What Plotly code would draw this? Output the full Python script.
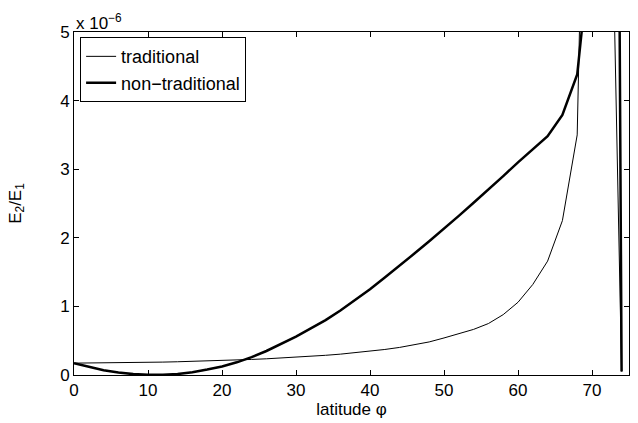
import plotly.graph_objects as go

# latitude grid (degrees)
latitude = [0, 2, 4, 6, 8, 10, 12, 14, 16, 18, 20, 22, 24, 26, 28, 30, 32, 34, 36,
            38, 40, 42, 44, 46, 48, 50, 52, 54, 56, 58, 60, 62, 64, 66, 68, 70, 72, 74]

# E2/E1 in units of 1e-6
traditional = [0.173, 0.174, 0.176, 0.178, 0.181, 0.184, 0.188, 0.193, 0.198, 0.204,
               0.211, 0.218, 0.227, 0.236, 0.247, 0.259, 0.272, 0.287, 0.304, 0.323,
               0.347, 0.372, 0.402, 0.438, 0.482, 0.54, 0.60, 0.665, 0.75, 0.88,
               1.06, 1.32, 1.66, 2.25, 3.50, 13.5, 10.7, 0.05]

non_traditional = [0.173, 0.116, 0.070, 0.036, 0.013, 0.002, 0.002, 0.014, 0.040, 0.080,
                   0.125, 0.185, 0.26, 0.35, 0.45, 0.56, 0.68, 0.80, 0.94, 1.09,
                   1.25, 1.42, 1.59, 1.77, 1.95, 2.13, 2.32, 2.51, 2.70, 2.90,
                   3.10, 3.29, 3.48, 3.79, 4.38, 6.45, 38.0, 0.05]

scale = 1e-6
x_ticks = [0, 10, 20, 30, 40, 50, 60, 70]
y_ticks = [0, 1, 2, 3, 4, 5]

FONT = "Liberation Sans, Arial, Helvetica, sans-serif"

fig = go.Figure()
fig.add_trace(go.Scatter(x=latitude, y=[v * scale for v in traditional],
                         mode="lines", name="traditional",
                         line=dict(color="black", width=1)))
fig.add_trace(go.Scatter(x=latitude, y=[v * scale for v in non_traditional],
                         mode="lines", name="non\u2212traditional",
                         line=dict(color="black", width=2.5)))

axis_common = dict(showline=True, linecolor="black", linewidth=1, mirror="ticks",
                   ticks="inside", ticklen=5, tickcolor="black", tickwidth=1,
                   showgrid=False, zeroline=False,
                   tickfont=dict(family=FONT, size=17, color="black"))

fig.update_xaxes(range=[0, 75], tickvals=x_ticks, ticktext=[str(t) for t in x_ticks],
                 title=dict(text="latitude \u03c6", font=dict(family=FONT, size=17, color="black"),
                            standoff=2),
                 **axis_common)
fig.update_yaxes(range=[0, 5 * scale], tickvals=[t * scale for t in y_ticks],
                 ticktext=[str(t) for t in y_ticks],
                 title=dict(text="E<sub>2</sub>/E<sub>1</sub>",
                            font=dict(family=FONT, size=17, color="black"), standoff=34),
                 **axis_common)

fig.add_annotation(text="x 10<sup>\u22126</sup>", xref="paper", yref="paper",
                   x=0.0, y=1.0, xanchor="left", yanchor="bottom", showarrow=False,
                   font=dict(family=FONT, size=17, color="black"), yshift=-3)

fig.update_layout(
    width=638, height=423,
    margin=dict(l=74, r=9, t=32, b=48),
    paper_bgcolor="white", plot_bgcolor="white",
    showlegend=True,
    legend=dict(x=0.011, y=0.985, xanchor="left", yanchor="top",
                bgcolor="white", bordercolor="black", borderwidth=1,
                font=dict(family=FONT, size=18, color="black"),
                itemwidth=30, tracegroupgap=0),
)

fig.write_html("out.html")
